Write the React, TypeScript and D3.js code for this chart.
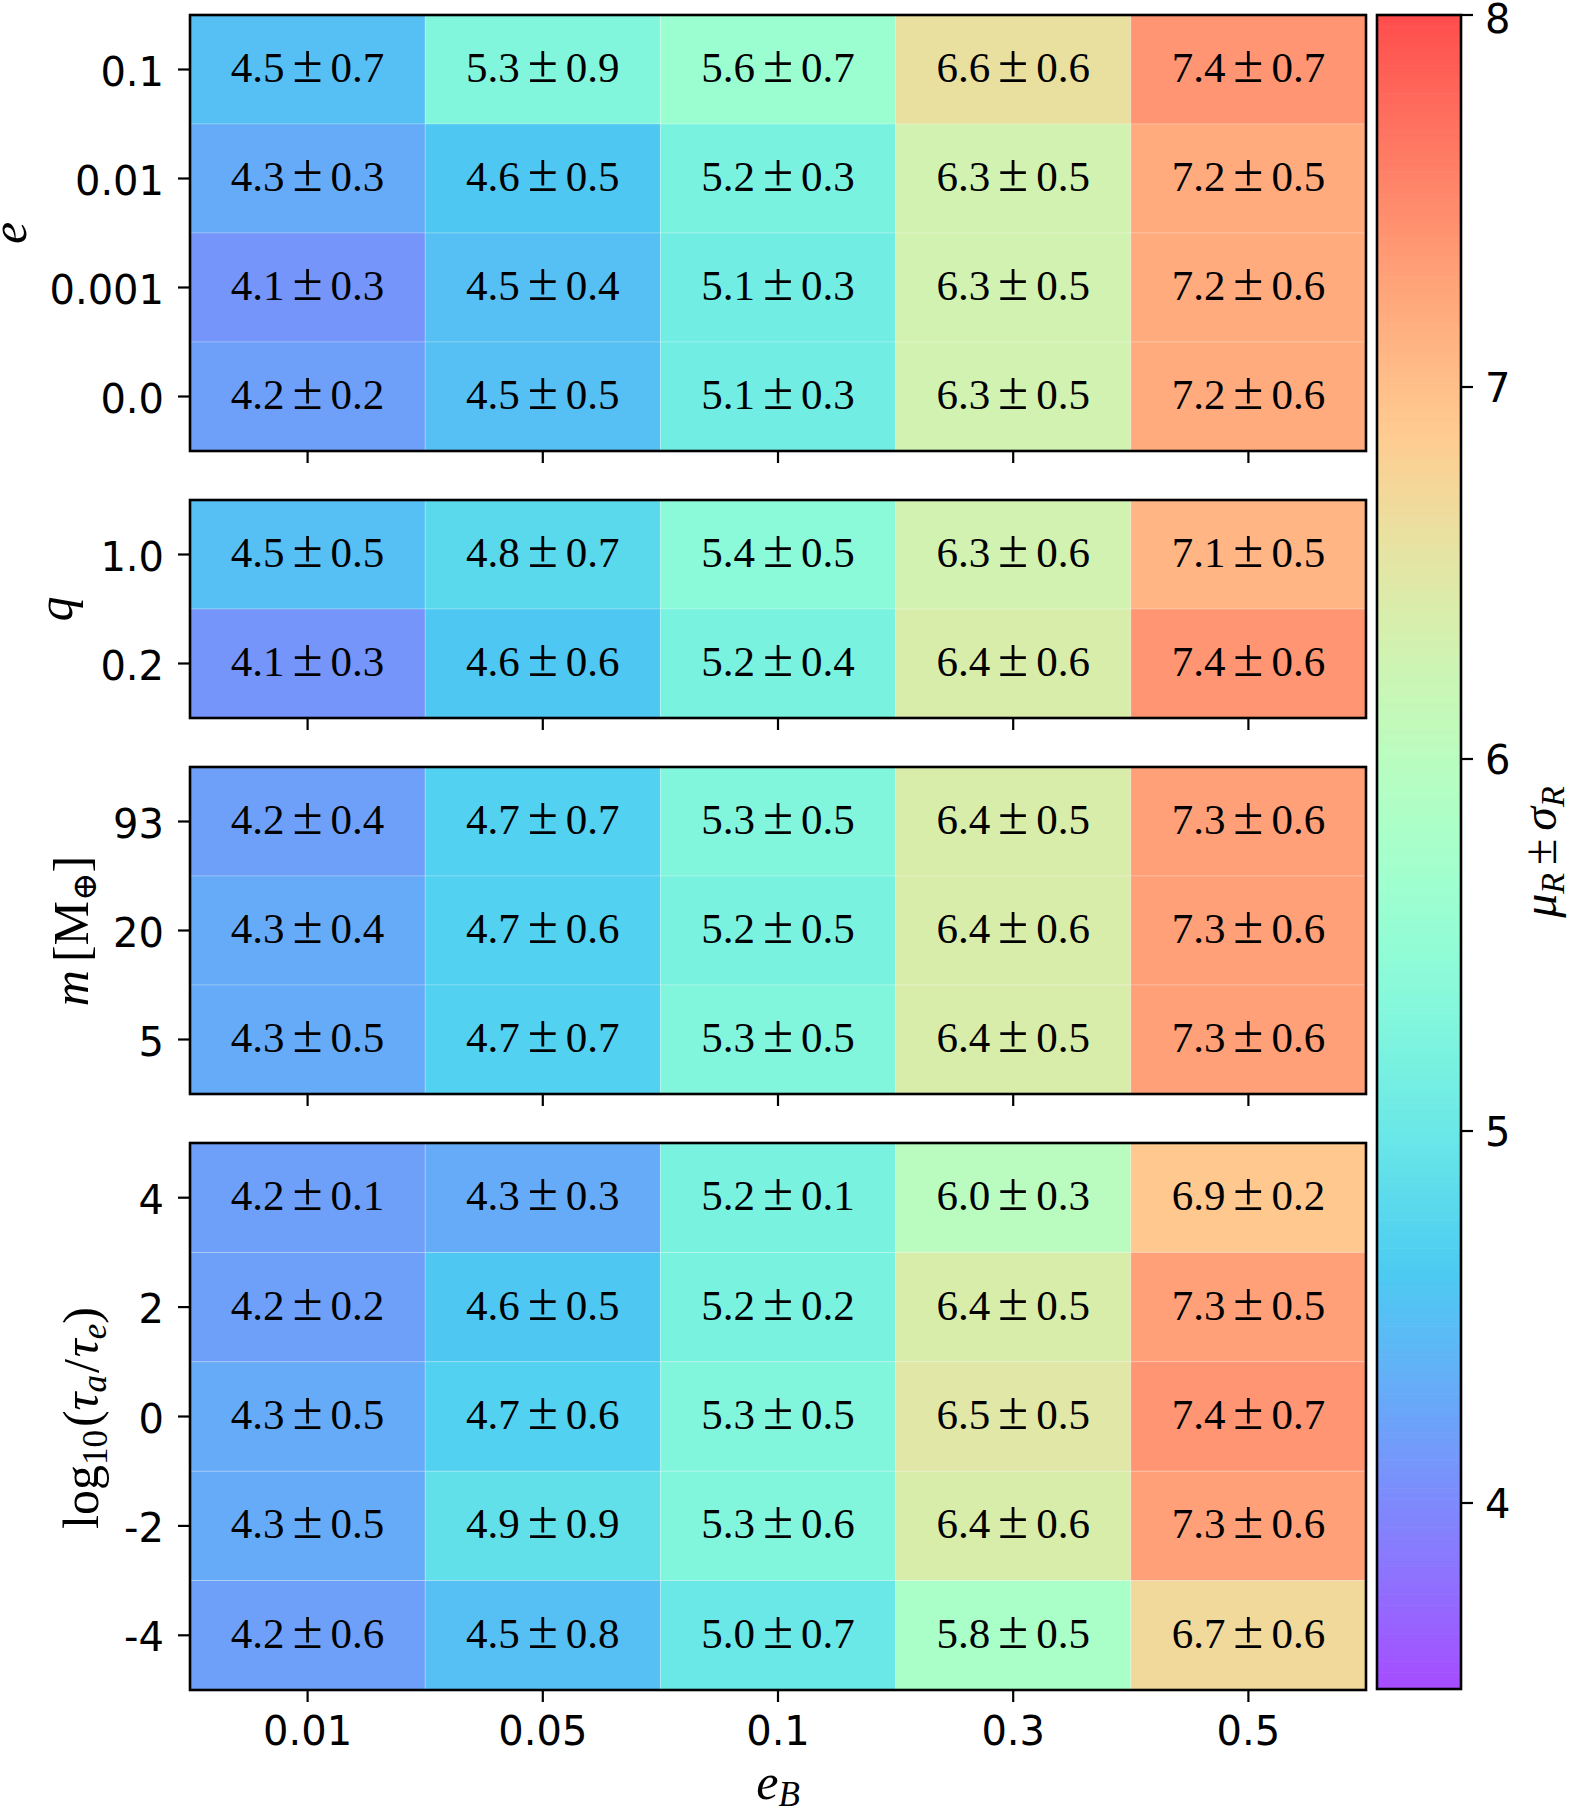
import React from "react";
import * as d3 from "d3";

const eBLabels = ["0.01", "0.05", "0.1", "0.3", "0.5"];

const eRows = ["0.1", "0.01", "0.001", "0.0"];
const eMeans = [
  [4.5, 5.3, 5.6, 6.6, 7.4],
  [4.3, 4.6, 5.2, 6.3, 7.2],
  [4.1, 4.5, 5.1, 6.3, 7.2],
  [4.2, 4.5, 5.1, 6.3, 7.2],
];
const eStds = [
  [0.7, 0.9, 0.7, 0.6, 0.7],
  [0.3, 0.5, 0.3, 0.5, 0.5],
  [0.3, 0.4, 0.3, 0.5, 0.6],
  [0.2, 0.5, 0.3, 0.5, 0.6],
];

const qRows = ["1.0", "0.2"];
const qMeans = [
  [4.5, 4.8, 5.4, 6.3, 7.1],
  [4.1, 4.6, 5.2, 6.4, 7.4],
];
const qStds = [
  [0.5, 0.7, 0.5, 0.6, 0.5],
  [0.3, 0.6, 0.4, 0.6, 0.6],
];

const mRows = ["93", "20", "5"];
const mMeans = [
  [4.2, 4.7, 5.3, 6.4, 7.3],
  [4.3, 4.7, 5.2, 6.4, 7.3],
  [4.3, 4.7, 5.3, 6.4, 7.3],
];
const mStds = [
  [0.4, 0.7, 0.5, 0.5, 0.6],
  [0.4, 0.6, 0.5, 0.6, 0.6],
  [0.5, 0.7, 0.5, 0.5, 0.6],
];

const tRows = ["4", "2", "0", "-2", "-4"];
const tMeans = [
  [4.2, 4.3, 5.2, 6.0, 6.9],
  [4.2, 4.6, 5.2, 6.4, 7.3],
  [4.3, 4.7, 5.3, 6.5, 7.4],
  [4.3, 4.9, 5.3, 6.4, 7.3],
  [4.2, 4.5, 5.0, 5.8, 6.7],
];
const tStds = [
  [0.1, 0.3, 0.1, 0.3, 0.2],
  [0.2, 0.5, 0.2, 0.5, 0.5],
  [0.5, 0.6, 0.5, 0.5, 0.7],
  [0.5, 0.9, 0.6, 0.6, 0.6],
  [0.6, 0.8, 0.7, 0.5, 0.6],
];

const cbTicks = [4, 5, 6, 7, 8];
const vmin = 3.5;
const vmax = 8;

const ALPHA = 0.7;
function rainbow(t: number): string {
  t = Math.max(0, Math.min(1, t));
  const r = Math.min(1, Math.abs(2 * t - 0.5));
  const g = Math.sin(Math.PI * t);
  const b = Math.cos((Math.PI * t) / 2);
  const f = (c: number) => Math.round(255 * (1 - ALPHA + ALPHA * c));
  return `rgb(${f(r)},${f(g)},${f(b)})`;
}
const norm = d3.scaleLinear().domain([vmin, vmax]).range([0, 1]);
const color = (v: number) => rainbow(norm(v));

const X0 = 190;
const X1 = 1366;
const x = d3.scaleBand<string>().domain(eBLabels).range([X0, X1]);

const SERIF = "Liberation Serif, DejaVu Serif, Times New Roman, serif";
const SANS = "DejaVu Sans, sans-serif";
const serifStyle = { fontFamily: SERIF };
const sansStyle = { fontFamily: SANS };

type PanelProps = {
  rows: string[];
  means: number[][];
  stds: number[][];
  top: number;
  bottom: number;
  showX: boolean;
};

function Panel({ rows, means, stds, top, bottom, showX }: PanelProps) {
  const y = d3.scaleBand<string>().domain(rows).range([top, bottom]);
  const bw = x.bandwidth();
  const bh = y.bandwidth();
  return (
    <g>
      {rows.map((r, i) =>
        eBLabels.map((c, j) => (
          <rect
            key={`${r}-${c}`}
            x={x(c)!}
            y={y(r)!}
            width={bw}
            height={bh}
            fill={color(means[i][j])}
            stroke="rgba(255,255,255,0.22)"
            strokeWidth={1}
          />
        ))
      )}
      {rows.map((r, i) =>
        eBLabels.map((c, j) => {
          const cx = x(c)! + bw / 2;
          const cy = y(r)! + bh / 2 + 12.5;
          return (
            <g key={`t-${r}-${c}`} fill="#000">
              <text x={cx - 23} y={cy} fontSize={43} textAnchor="end" style={serifStyle}>
                {means[i][j].toFixed(1)}
              </text>
              <text x={cx} y={cy} fontSize={55} textAnchor="middle" style={serifStyle}>
                ±
              </text>
              <text x={cx + 23} y={cy} fontSize={43} textAnchor="start" style={serifStyle}>
                {stds[i][j].toFixed(1)}
              </text>
            </g>
          );
        })
      )}
      <rect
        x={X0}
        y={top}
        width={X1 - X0}
        height={bottom - top}
        fill="none"
        stroke="#000"
        strokeWidth={2.6}
      />
      {rows.map((r) => (
        <g key={`yt-${r}`}>
          <line
            x1={X0 - 12}
            x2={X0}
            y1={y(r)! + bh / 2}
            y2={y(r)! + bh / 2}
            stroke="#000"
            strokeWidth={2.2}
          />
          <text
            x={X0 - 26}
            y={y(r)! + bh / 2 + 16}
            fontSize={40}
            textAnchor="end"
            style={sansStyle}
          >
            {r}
          </text>
        </g>
      ))}
      {eBLabels.map((c) => (
        <g key={`xt-${c}`}>
          <line
            x1={x(c)! + bw / 2}
            x2={x(c)! + bw / 2}
            y1={bottom}
            y2={bottom + 12}
            stroke="#000"
            strokeWidth={2.2}
          />
          {showX && (
            <text
              x={x(c)! + bw / 2}
              y={1745}
              fontSize={40}
              textAnchor="middle"
              style={sansStyle}
            >
              {c}
            </text>
          )}
        </g>
      ))}
    </g>
  );
}

function Colorbar() {
  const CB0 = 1377;
  const CB1 = 1461;
  const cy = d3.scaleLinear().domain([vmin, vmax]).range([1689, 15]);
  const N = 300;
  const steps = d3.range(N).map((i) => vmin + ((vmax - vmin) * i) / N);
  const dv = (vmax - vmin) / N;
  return (
    <g>
      {steps.map((v, i) => (
        <rect
          key={i}
          x={CB0}
          y={cy(v + dv)}
          width={CB1 - CB0}
          height={cy(v) - cy(v + dv) + 0.6}
          fill={color(v + dv / 2)}
        />
      ))}
      <rect
        x={CB0}
        y={15}
        width={CB1 - CB0}
        height={1689 - 15}
        fill="none"
        stroke="#000"
        strokeWidth={2.6}
      />
      {cbTicks.map((t) => (
        <g key={t}>
          <line x1={CB1} x2={CB1 + 12} y1={cy(t)} y2={cy(t)} stroke="#000" strokeWidth={2.2} />
          <text x={1485} y={Math.max(cy(t) + 15, 33)} fontSize={40} style={sansStyle}>
            {t}
          </text>
        </g>
      ))}
      <text
        transform="translate(1556,852) rotate(-90)"
        fontSize={48}
        textAnchor="middle"
        style={serifStyle}
      >
        <tspan fontStyle="italic">μ</tspan>
        <tspan fontStyle="italic" fontSize={34} dy={8}>R</tspan>
        <tspan dy={-8} dx={8}>±</tspan>
        <tspan fontStyle="italic" dx={8}>σ</tspan>
        <tspan fontStyle="italic" fontSize={34} dy={8}>R</tspan>
      </text>
    </g>
  );
}

export default function App() {
  return (
    <svg
      width={1573}
      height={1814}
      viewBox="0 0 1573 1814"
      style={{ position: "absolute", left: 0, top: 0, background: "#fff" }}
    >
      <rect x={0} y={0} width={1573} height={1814} fill="#fff" />
      <Panel rows={eRows} means={eMeans} stds={eStds} top={15} bottom={451} showX={false} />
      <Panel rows={qRows} means={qMeans} stds={qStds} top={500} bottom={718} showX={false} />
      <Panel rows={mRows} means={mMeans} stds={mStds} top={767} bottom={1094} showX={false} />
      <Panel rows={tRows} means={tMeans} stds={tStds} top={1143} bottom={1690} showX={true} />
      <Colorbar />

      {/* y labels */}
      <text transform="translate(26,233) rotate(-90)" fontSize={50} fontStyle="italic" textAnchor="middle" style={serifStyle}>
        e
      </text>
      <text transform="translate(72,609) rotate(-90)" fontSize={50} fontStyle="italic" textAnchor="middle" style={serifStyle}>
        q
      </text>
      <text transform="translate(88,931) rotate(-90)" fontSize={50} textAnchor="middle" style={serifStyle}>
        <tspan fontStyle="italic">m</tspan>
        <tspan dx={8}>[M</tspan>
        <tspan fontSize={34} dy={8} style={{ fontFamily: "DejaVu Serif, serif" }}>⊕</tspan>
        <tspan dy={-8}>]</tspan>
      </text>
      <text transform="translate(98,1418) rotate(-90)" fontSize={50} textAnchor="middle" style={serifStyle}>
        <tspan>log</tspan>
        <tspan fontSize={35} dy={9}>10</tspan>
        <tspan dy={-9} dx={3}>(</tspan>
        <tspan fontStyle="italic">τ</tspan>
        <tspan fontStyle="italic" fontSize={35} dy={8}>a</tspan>
        <tspan dy={-8} dx={2}>/</tspan>
        <tspan fontStyle="italic" dx={2}>τ</tspan>
        <tspan fontStyle="italic" fontSize={35} dy={8}>e</tspan>
        <tspan dy={-8}>)</tspan>
      </text>

      {/* x label */}
      <text x={778} y={1799} fontSize={50} textAnchor="middle" style={serifStyle}>
        <tspan fontStyle="italic">e</tspan>
        <tspan fontStyle="italic" fontSize={35} dy={7}>B</tspan>
      </text>
    </svg>
  );
}
